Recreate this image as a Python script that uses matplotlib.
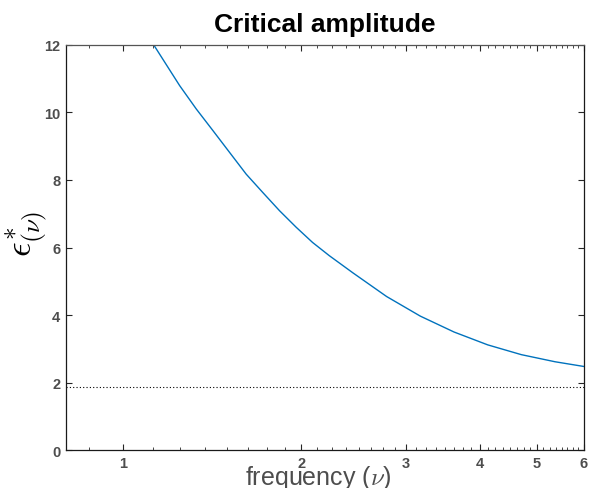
import numpy as np
import matplotlib
matplotlib.use('Agg')
import matplotlib.pyplot as plt
from matplotlib.ticker import FixedLocator, NullFormatter

# values
freq = [1.126, 1.246, 1.329, 1.418, 1.512, 1.614, 1.721, 1.837, 1.960, 2.089,
        2.229, 2.444, 2.786, 3.176, 3.621, 4.127, 4.704, 5.362, 6.0]
amp = [12.0, 10.79, 10.10, 9.46, 8.82, 8.17, 7.63, 7.09, 6.60, 6.15,
       5.76, 5.25, 4.55, 3.97, 3.50, 3.12, 2.83, 2.62, 2.48]
threshold = 1.88
xticks = [1, 2, 3, 4, 5, 6]
yticks = [0, 2, 4, 6, 8, 10, 12]

plt.rcParams['font.family'] = ['Liberation Sans', 'DejaVu Sans']
plt.rcParams['mathtext.fontset'] = 'cm'

grey = '#4d4d4d'

fig = plt.figure(figsize=(5.94, 4.89), dpi=100)
ax = fig.add_axes([0.1106, 0.0771, 0.8724, 0.8294])

ax.plot(freq, amp, color='#0072bd', lw=1.0)
ax.axhline(threshold, color='black', ls=(0, (1, 2)), lw=0.8)

ax.set_xscale('log')
ax.set_xlim(0.8, 6)
ax.set_ylim(0, 12)

ax.xaxis.set_major_locator(FixedLocator(xticks))
ax.set_xticklabels([str(t) for t in xticks])
minors = [0.875] + [t for t in np.arange(1.125, 6.0, 0.125) if abs(t - round(t)) > 1e-6]
ax.xaxis.set_minor_locator(FixedLocator(minors))
ax.xaxis.set_minor_formatter(NullFormatter())
ax.set_yticks(yticks)

ax.tick_params(which='both', direction='in', top=True, right=True,
               labelsize=10.5, labelcolor=grey, pad=4)
ax.tick_params(which='major', length=4.5, width=0.8, color='#262626')
ax.tick_params(which='minor', length=2.5, width=0.6, color='#262626')
for lab in ax.get_xticklabels() + ax.get_yticklabels():
    lab.set_fontweight('bold')

for side in ['left', 'bottom', 'right']:
    ax.spines[side].set_color('#1a1a1a')
    ax.spines[side].set_linewidth(0.9)
ax.spines['top'].set_color('#555555')
ax.spines['top'].set_linewidth(0.9)

ax.set_title('Critical amplitude', fontsize=19, fontweight='bold', pad=10)

ax.set_xlabel('frequency ($\\nu$)', fontsize=18, color=grey)
ax.xaxis.label.set_va('baseline')
ax.xaxis.set_label_coords(0.487, -0.082)

ax.set_ylabel('$\\epsilon^{*}_{(\\nu)}$', fontsize=26, color='black')
ax.yaxis.label.set_va('center')
ax.yaxis.set_label_coords(-0.075, 0.536)

fig.savefig('out.png', dpi=100)
